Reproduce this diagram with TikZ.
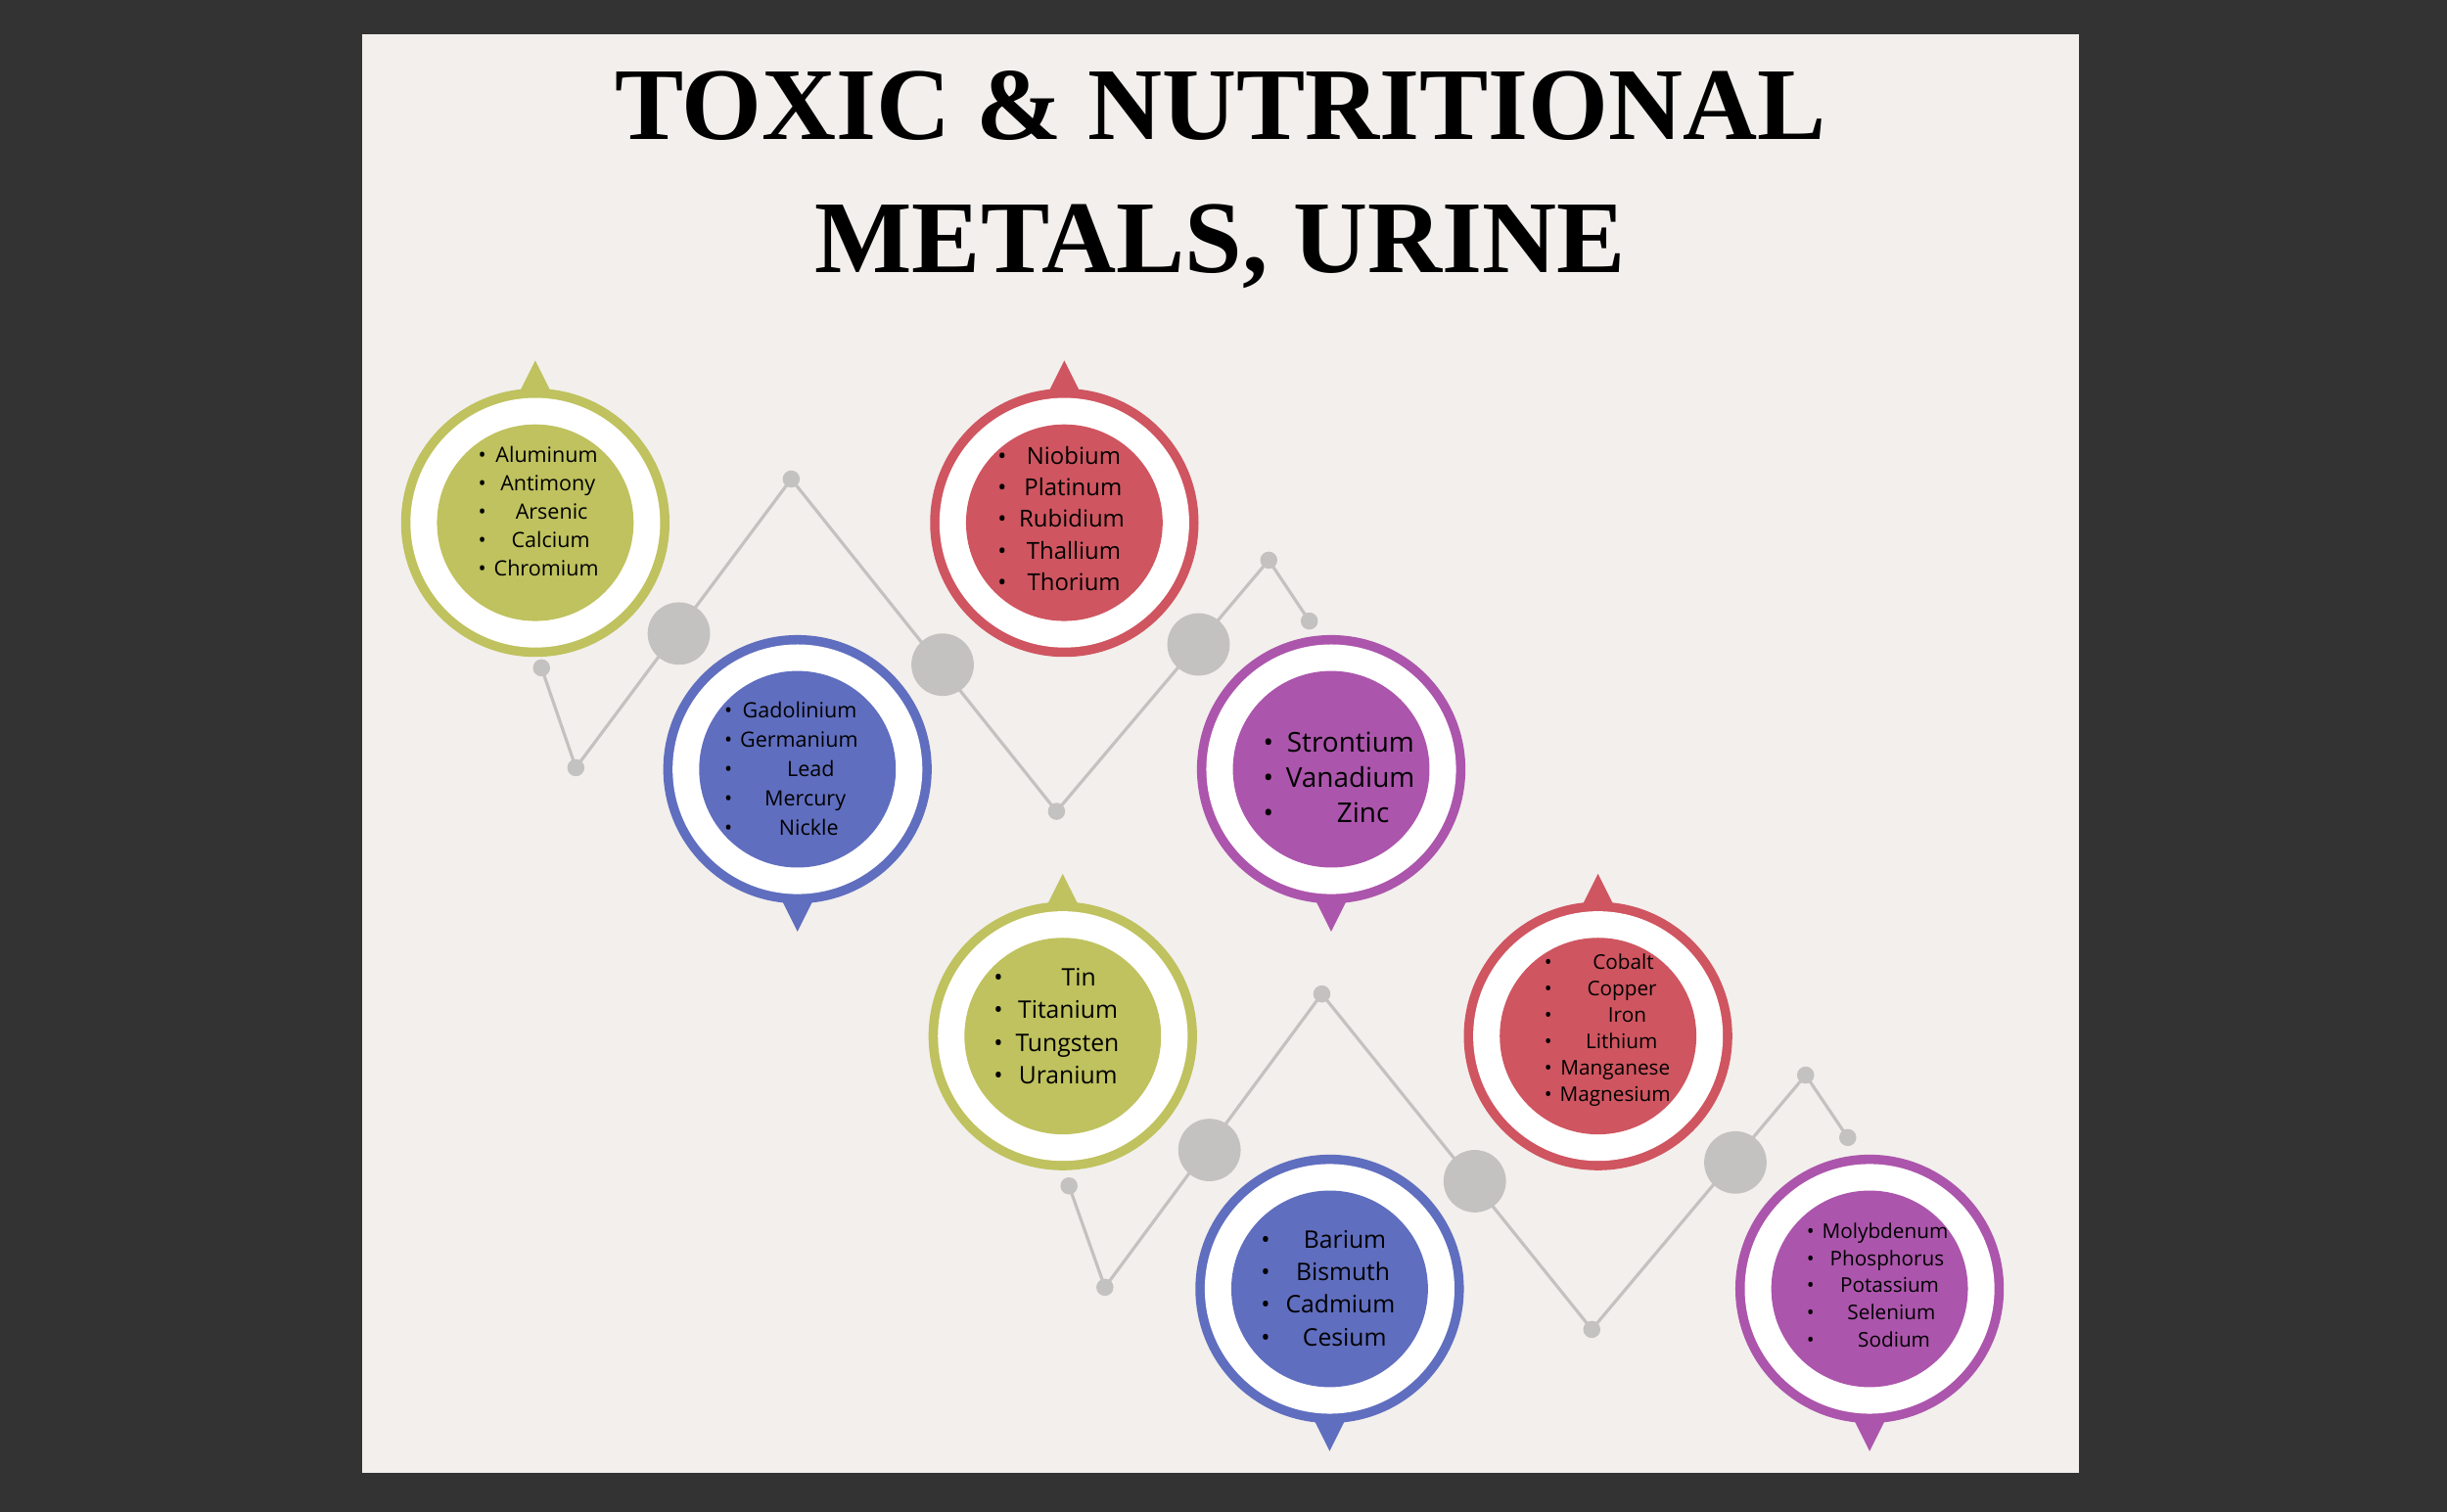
\documentclass[tikz,border=0pt]{standalone}
\usepackage{fontspec}
\setmainfont{Open Sans}
\newfontfamily\titlefont{Liberation Serif}
\usetikzlibrary{calc}
\definecolor{bgdark}{HTML}{333333}
\definecolor{page}{HTML}{F2EFEC}
\definecolor{cOl}{HTML}{BFC25E}
\definecolor{cBl}{HTML}{606EBF}
\definecolor{cRd}{HTML}{CF5560}
\definecolor{cPu}{HTML}{AC55AC}
\definecolor{zig}{HTML}{C4C2C0}
\tikzset{
 zigline/.style={draw=zig,line width=2pt},
 bigdot/.style={fill=zig,draw=none},
 lst/.style={font=\fontsize{#1}{#1}\selectfont,inner sep=0pt,align=left},
}
\newcommand{\badge}[5]{% name, x, y, color, up(1)/down(-1)
 \fill[#4] ($(#2,#3)+(-12,-#5*80)$) -- ($(#2,#3)+(12,-#5*80)$) -- ($(#2,#3)+(0,-#5*104)$) -- cycle;
 \fill[#4] (#2,#3) circle (86);
 \fill[white] (#2,#3) circle (80);
 \fill[#4] (#2,#3) circle (63);
 \coordinate (#1) at (#2,#3);
}
\newcommand{\lrow}[1]{\textbullet & \hfil #1\hfil\\}
\begin{document}
\begin{tikzpicture}[x=1pt,y=-1pt]
\fill[bgdark] (0,0) rectangle (1568,969);
\fill[page] (232,22) rectangle (1332,944);
\useasboundingbox (0,0) rectangle (1568,969);
\node[font=\titlefont\bfseries\fontsize{66}{66}\selectfont] (t1) at (782,68) {TOXIC \& NUTRITIONAL};
\node[font=\titlefont\bfseries\fontsize{66}{66}\selectfont] (t2) at (782,158) {METALS, URINE};
% zigzag 1
\coordinate (a1) at (347,428); \coordinate (a2) at (369,492); \coordinate (a3) at (507,307);
\coordinate (a4) at (677,520); \coordinate (a5) at (813,359); \coordinate (a6) at (839,398);
\draw[zigline] (a1)--(a2)--(a3)--(a4)--(a5)--(a6);
\foreach \p in {a1,a2,a3,a4,a5,a6} \fill[zig] (\p) circle (5.5);
\fill[zig] (435,406) circle (20); \fill[zig] (604,426) circle (20); \fill[zig] (768,413) circle (20);
% zigzag 2
\coordinate (b1) at (685,760); \coordinate (b2) at (708,825); \coordinate (b3) at (847,637);
\coordinate (b4) at (1020,852); \coordinate (b5) at (1157,689); \coordinate (b6) at (1184,729);
\draw[zigline] (b1)--(b2)--(b3)--(b4)--(b5)--(b6);
\foreach \p in {b1,b2,b3,b4,b5,b6} \fill[zig] (\p) circle (5.5);
\fill[zig] (775,737) circle (20); \fill[zig] (945,757) circle (20); \fill[zig] (1112,745) circle (20);
% badges
\badge{c1}{343}{335}{cOl}{1}
\badge{c2}{511}{493}{cBl}{-1}
\badge{c3}{682}{335}{cRd}{1}
\badge{c4}{853}{493}{cPu}{-1}
\badge{c5}{681}{664}{cOl}{1}
\badge{c6}{852}{826}{cBl}{-1}
\badge{c7}{1024}{664}{cRd}{1}
\badge{c8}{1198}{826}{cPu}{-1}
\node[lst=13.5] (l1) at (345,329) {\renewcommand{\arraystretch}{1.35}\begin{tabular}{@{}l@{\hspace{5pt}}c@{}}\lrow{Aluminum}\lrow{Antimony}\lrow{Arsenic}\lrow{Calcium}\lrow{Chromium}\end{tabular}};
\node[lst=13.5] (l2) at (507,494) {\renewcommand{\arraystretch}{1.4}\begin{tabular}{@{}l@{\hspace{5pt}}c@{}}\lrow{Gadolinium}\lrow{Germanium}\lrow{Lead}\lrow{Mercury}\lrow{Nickle}\end{tabular}};
\node[lst=15] (l3) at (680,334) {\renewcommand{\arraystretch}{1.35}\begin{tabular}{@{}l@{\hspace{8pt}}c@{}}\lrow{Niobium}\lrow{Platinum}\lrow{Rubidium}\lrow{Thallium}\lrow{Thorium}\end{tabular}};
\node[lst=17.5] (l4) at (858,500) {\renewcommand{\arraystretch}{1.3}\begin{tabular}{@{}l@{\hspace{8pt}}c@{}}\lrow{Strontium}\lrow{Vanadium}\lrow{Zinc}\end{tabular}};
\node[lst=15.5] (l5) at (677,659) {\renewcommand{\arraystretch}{1.35}\begin{tabular}{@{}l@{\hspace{8pt}}c@{}}\lrow{Tin}\lrow{Titanium}\lrow{Tungsten}\lrow{Uranium}\end{tabular}};
\node[lst=15.5] (l6) at (851,827) {\renewcommand{\arraystretch}{1.35}\begin{tabular}{@{}l@{\hspace{10pt}}c@{}}\lrow{Barium}\lrow{Bismuth}\lrow{Cadmium}\lrow{Cesium}\end{tabular}};
\node[lst=13] (l7) at (1030,660) {\renewcommand{\arraystretch}{1.3}\begin{tabular}{@{}l@{\hspace{5pt}}c@{}}\lrow{Cobalt}\lrow{Copper}\lrow{Iron}\lrow{Lithium}\lrow{Manganese}\lrow{Magnesium}\end{tabular}};
\node[lst=13] (l8) at (1203,825) {\renewcommand{\arraystretch}{1.35}\begin{tabular}{@{}l@{\hspace{5pt}}c@{}}\lrow{Molybdenum}\lrow{Phosphorus}\lrow{Potassium}\lrow{Selenium}\lrow{Sodium}\end{tabular}};
\end{tikzpicture}
\end{document}
